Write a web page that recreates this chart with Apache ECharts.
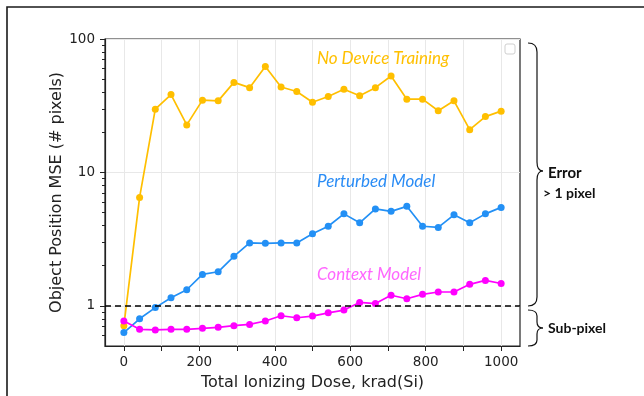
<!DOCTYPE html>
<html>
<head>
<meta charset="utf-8">
<script src="https://cdn.jsdelivr.net/npm/echarts@6/dist/echarts.min.js"></script>
<style>html,body{margin:0;padding:0;background:#fff}#c{width:644px;height:396px}</style>
</head>
<body>
<div id="c"></div>
<script>
// Total ionizing dose (krad(Si)) sample points
const dose = [0, 41.7, 83.3, 125, 166.7, 208.3, 250, 291.7, 333.3, 375, 416.7, 458.3, 500,
  541.7, 583.3, 625, 666.7, 708.3, 750, 791.7, 833.3, 875, 916.7, 958.3, 1000];
// Object position MSE (# pixels)
const noDeviceTraining = [0.71, 6.5, 29.8, 38.3, 22.7, 34.8, 34.4, 47.3, 43.2, 62.3, 43.7, 40.4, 33.6,
  37.1, 42.0, 37.5, 43.2, 52.8, 35.4, 35.4, 29.0, 34.4, 20.9, 26.2, 28.8];
const perturbedModel = [0.63, 0.80, 0.97, 1.15, 1.32, 1.72, 1.80, 2.35, 2.96, 2.94, 2.96, 2.96, 3.47,
  3.95, 4.89, 4.19, 5.33, 5.11, 5.57, 3.95, 3.87, 4.81, 4.19, 4.89, 5.47];
const contextModel = [0.77, 0.667, 0.66, 0.667, 0.667, 0.678, 0.69, 0.71, 0.726, 0.77, 0.843, 0.814, 0.838,
  0.886, 0.929, 1.06, 1.04, 1.20, 1.13, 1.22, 1.27, 1.27, 1.45, 1.55, 1.47];
const xTickValues = [0, 100, 200, 300, 400, 500, 600, 700, 800, 900, 1000];
const xLabelValues = [0, 200, 400, 600, 800, 1000];
const yMajorTicks = [1, 10, 100];
const yMinorTicks = [0.6, 0.7, 0.8, 0.9, 2, 3, 4, 5, 6, 7, 8, 9, 20, 30, 40, 50, 60, 70, 80, 90];
const threshold = 1;

const cYellow = '#FFBF00', cBlue = '#2390F5', cMagenta = '#FF00FF';
const tickFont = 'DejaVu Sans';

function pairs(ys) { return dose.map((x, i) => [x, ys[i]]); }

// curly brace made of simple graphic elements
function brace(x0, xl, xt, top, tip, bottom, r) {
  const st = {stroke: '#111', lineWidth: 1.2, fill: 'none'};
  return [
    {type: 'bezierCurve', shape: {x1: x0, y1: top, cpx1: xl, cpy1: top, x2: xl, y2: top + r}, style: st},
    {type: 'line', shape: {x1: xl, y1: top + r, x2: xl, y2: tip - r}, style: st},
    {type: 'bezierCurve', shape: {x1: xl, y1: tip - r, cpx1: xl, cpy1: tip, x2: xt, y2: tip}, style: st},
    {type: 'bezierCurve', shape: {x1: xt, y1: tip, cpx1: xl, cpy1: tip, x2: xl, y2: tip + r}, style: st},
    {type: 'line', shape: {x1: xl, y1: tip + r, x2: xl, y2: bottom - r}, style: st},
    {type: 'bezierCurve', shape: {x1: xl, y1: bottom - r, cpx1: xl, cpy1: bottom, x2: x0, y2: bottom}, style: st}
  ];
}

const chart = echarts.init(document.getElementById('c'), null, {renderer: 'canvas'});
chart.setOption({
  animation: false,
  backgroundColor: '#fff',
  grid: {left: 105, top: 39, right: 124, bottom: 48, show: true, borderColor: '#222', borderWidth: 1.2, backgroundColor: 'transparent'},
  xAxis: {
    type: 'value', min: -50, max: 1050,
    name: 'Total Ionizing Dose, krad(Si)', nameLocation: 'middle', nameGap: 29, nameMoveOverlap: false,
    nameTextStyle: {fontFamily: tickFont, fontSize: 16, color: '#222'},
    axisLine: {show: true, onZero: false, lineStyle: {color: '#222', width: 1.2}},
    axisTick: {show: true, length: 5, customValues: xTickValues, lineStyle: {color: '#222'}},
    axisLabel: {customValues: xLabelValues, margin: 9, fontFamily: tickFont, fontSize: 13.5, color: '#222',
      formatter: v => String(v)},
    splitLine: {show: true, lineStyle: {color: '#e8e8e8', width: 1}}
  },
  yAxis: [{
    type: 'log', logBase: 10, min: 0.5, max: 100,
    name: 'Object Position MSE (# pixels)', nameLocation: 'middle', nameGap: 40, nameMoveOverlap: false,
    nameTextStyle: {fontFamily: tickFont, fontSize: 16, color: '#222'},
    axisLine: {show: true, onZero: false, lineStyle: {color: '#222', width: 1.2}},
    axisTick: {show: true, length: 5, customValues: yMajorTicks, lineStyle: {color: '#222'}},
    axisLabel: {customValues: yMajorTicks, margin: 10, fontFamily: tickFont, fontSize: 13.5, color: '#222',
      formatter: v => String(v)},
    splitLine: {show: true, lineStyle: {color: '#e8e8e8', width: 1}}
  }, {
    type: 'log', logBase: 10, min: 0.5, max: 100, position: 'left', offset: 0,
    axisLine: {show: false, onZero: false},
    axisTick: {show: true, length: 3, customValues: yMinorTicks, lineStyle: {color: '#222'}},
    axisLabel: {show: false},
    splitLine: {show: false}
  }],
  series: [{
    name: 'No Device Training', type: 'line', data: pairs(noDeviceTraining),
    symbol: 'circle', symbolSize: 7, color: cYellow, lineStyle: {width: 1.7, color: cYellow},
    itemStyle: {color: cYellow}, z: 3,
    markLine: {
      silent: true, symbol: 'none', label: {show: false},
      lineStyle: {color: '#000', type: [6, 4], width: 1.5},
      data: [{yAxis: threshold}]
    }
  }, {
    name: 'Perturbed Model', type: 'line', data: pairs(perturbedModel),
    symbol: 'circle', symbolSize: 7, color: cBlue, lineStyle: {width: 1.7, color: cBlue},
    itemStyle: {color: cBlue}, z: 3
  }, {
    name: 'Context Model', type: 'line', data: pairs(contextModel),
    symbol: 'circle', symbolSize: 7, color: cMagenta, lineStyle: {width: 1.7, color: cMagenta},
    itemStyle: {color: cMagenta}, z: 4
  }],
  graphic: [
    {type: 'rect', shape: {x: 7, y: 7, width: 800, height: 600}, style: {fill: 'none', stroke: '#1a1a1a', lineWidth: 1.6}, silent: true},
    {type: 'rect', shape: {x: 505, y: 44, width: 10, height: 10, r: 2}, style: {fill: '#fff', stroke: '#cfcfcf', lineWidth: 1}, z: 10},
    {type: 'text', x: 317, y: 59, style: {text: 'No Device Training', font: 'italic 17px Lato', fill: '#FFC000', verticalAlign: 'middle'}, z: 10},
    {type: 'text', x: 317, y: 182, style: {text: 'Perturbed Model', font: 'italic 17px Lato', fill: '#2a8cf5', verticalAlign: 'middle'}, z: 10},
    {type: 'text', x: 317, y: 275, style: {text: 'Context Model', font: 'italic 17px Lato', fill: '#FF66FF', verticalAlign: 'middle'}, z: 10},
    ...brace(528, 537, 543, 43, 171, 306, 9),
    ...brace(528, 537, 543, 310, 328, 346, 6),
    {type: 'text', x: 548, y: 173, style: {text: 'Error', font: 'bold 15px Lato', fill: '#111', verticalAlign: 'middle'}},
    {type: 'text', x: 543, y: 193, style: {text: '> 1 pixel', font: 'bold 14px Lato', fill: '#111', verticalAlign: 'middle'}},
    {type: 'text', x: 548, y: 328, style: {text: 'Sub-pixel', font: 'bold 14px Lato', fill: '#111', verticalAlign: 'middle'}}
  ]
});
</script>
</body>
</html>
